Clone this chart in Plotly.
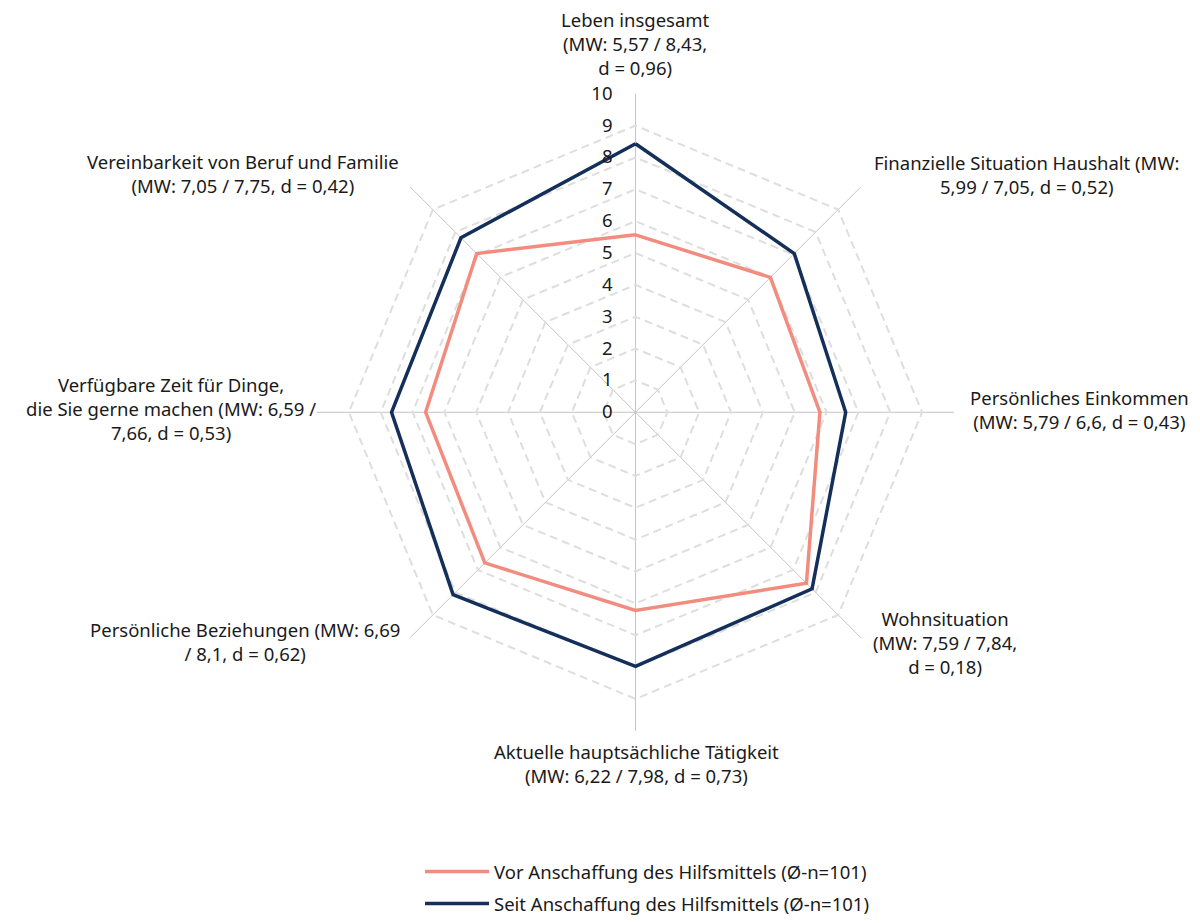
import plotly.graph_objects as go

categories = [
    "Leben insgesamt",
    "Finanzielle Situation Haushalt",
    "Persönliches Einkommen",
    "Wohnsituation",
    "Aktuelle hauptsächliche Tätigkeit",
    "Persönliche Beziehungen",
    "Verfügbare Zeit für Dinge, die Sie gerne machen",
    "Vereinbarkeit von Beruf und Familie",
]
vor_values = [5.57, 5.99, 5.79, 7.59, 6.22, 6.69, 6.59, 7.05]
seit_values = [8.43, 7.05, 6.6, 7.84, 7.98, 8.1, 7.66, 7.75]
series_names = [
    "Vor Anschaffung des Hilfsmittels (Ø-n=101)",
    "Seit Anschaffung des Hilfsmittels (Ø-n=101)",
]
radial_ticks = list(range(0, 11))

label_texts = [
    "Leben insgesamt<br>(MW: 5,57 / 8,43,<br>d = 0,96)",
    "Finanzielle Situation Haushalt (MW:<br>5,99 / 7,05, d = 0,52)",
    "Persönliches Einkommen<br>(MW: 5,79 / 6,6, d = 0,43)",
    "Wohnsituation<br>(MW: 7,59 / 7,84,<br>d = 0,18)",
    "Aktuelle hauptsächliche Tätigkeit<br>(MW: 6,22 / 7,98, d = 0,73)",
    "Persönliche Beziehungen (MW: 6,69<br>/ 8,1, d = 0,62)",
    "Verfügbare Zeit für Dinge,<br>die Sie gerne machen (MW: 6,59 /<br>7,66, d = 0,53)",
    "Vereinbarkeit von Beruf und Familie<br>(MW: 7,05 / 7,75, d = 0,42)",
]
# label centre positions in pixels (x, y from top)
label_pos = [(635, 44), (1027, 178), (1079, 417), (945, 655),
             (636, 778), (245, 654), (171, 416), (243, 177)]

W, H = 1200, 923
FONT = "Noto Sans"
FS = 18.5
TXT = "#1a1a1a"

fig = go.Figure()
fig.add_trace(go.Scatterpolar(
    r=vor_values + [vor_values[0]], theta=categories + [categories[0]],
    mode="lines", name=series_names[0], legendgroup="a",
    line=dict(color="#F28C7E", width=3.5),
))
fig.add_trace(go.Scatterpolar(
    r=seit_values + [seit_values[0]], theta=categories + [categories[0]],
    mode="lines", name=series_names[1], legendgroup="b",
    line=dict(color="#14305A", width=3.5),
))

cx, cy, R = 635.5, 420, 324.5
fig.update_layout(
    width=W, height=H,
    margin=dict(l=0, r=0, t=0, b=0),
    paper_bgcolor="white",
    font=dict(family=FONT, size=FS, color=TXT),
    polar=dict(
        domain=dict(x=[(cx - R) / W, (cx + R) / W],
                    y=[(H - cy - R) / H, (H - cy + R) / H]),
        bgcolor="white",
        gridshape="linear",
        angularaxis=dict(
            direction="clockwise", rotation=90,
            showticklabels=False, ticks="",
            showline=False,
            gridcolor="#c4c4c4", gridwidth=1,
        ),
        radialaxis=dict(
            range=[0, 10.001], tickvals=radial_ticks,
            angle=90, tickangle=90, side="counterclockwise",
            showline=False, ticks="outside", ticklen=16, tickcolor="rgba(0,0,0,0)",
            gridcolor="#dedede", gridwidth=1.5, griddash="8px,5px",
            tickfont=dict(family=FONT, size=FS, color=TXT),
        ),
    ),
    legend=dict(
        orientation="v", x=0.35, xanchor="left", y=1 - 869 / H, yanchor="top",
        font=dict(family=FONT, size=FS, color=TXT),
        itemwidth=64, tracegroupgap=5,
    ),
    showlegend=True,
)

for txt, (px, py) in zip(label_texts, label_pos):
    fig.add_annotation(
        text=txt, x=px / W, y=1 - py / H, xref="paper", yref="paper",
        xanchor="center", yanchor="middle", showarrow=False, align="center",
        font=dict(family=FONT, size=FS, color=TXT),
    )

fig.write_html("out.html")
